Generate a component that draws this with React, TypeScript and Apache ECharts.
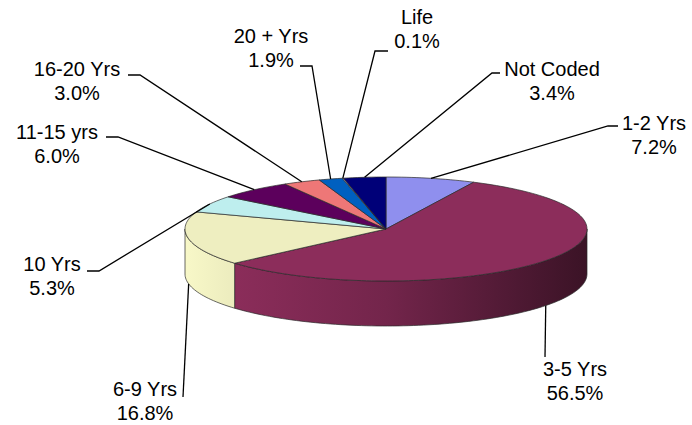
import React, { useEffect, useRef } from "react";
import * as echarts from "echarts";

// ---- data ----
const categories = [
  "1-2 Yrs",
  "3-5 Yrs",
  "6-9 Yrs",
  "10 Yrs",
  "11-15 yrs",
  "16-20 Yrs",
  "20 + Yrs",
  "Life",
  "Not Coded",
];
const shares = [7.2, 56.5, 16.8, 5.3, 6.0, 3.0, 1.9, 0.1, 3.4];
const percentLabels = shares.map((v) => v.toFixed(1) + "%");

// ---- style ----
const COLORS = [
  "#8F8FEE",
  "#8C2D5B",
  "#EEEEC0",
  "#BEEEEE",
  "#5C005C",
  "#EE7777",
  "#0060C0",
  "#C0C0EE",
  "#000078",
];

// ---- layout (3D ellipse + label placement) ----
const CX = 386;
const CY = 229;
const RX = 201;
const RY = 52;
const DEPTH = 45;

// text block centre, then leader points after the slice anchor
const LABEL_LAYOUT: { tx: number; ty: number; pts: number[][] }[] = [
  { tx: 654, ty: 135, pts: [[608, 126], [618, 126]] },
  { tx: 575, ty: 381, pts: [[545, 357]] },
  { tx: 145, ty: 401, pts: [[183, 397]] },
  { tx: 52, ty: 276, pts: [[99, 271], [87, 271]] },
  { tx: 57, ty: 144, pts: [[118, 137], [106, 137]] },
  { tx: 77, ty: 81, pts: [[140, 75], [128, 75]] },
  { tx: 271, ty: 48, pts: [[312, 66], [300, 66]] },
  { tx: 417, ty: 29, pts: [[375, 51], [388, 51]] },
  { tx: 552, ty: 81, pts: [[492, 73], [500, 73]] },
];

function shade(hex: string, f: number): string {
  const n = parseInt(hex.slice(1), 16);
  const ch = [(n >> 16) & 255, (n >> 8) & 255, n & 255].map((c) =>
    Math.max(0, Math.min(255, Math.round(c * f)))
  );
  return "rgb(" + ch.join(",") + ")";
}

export default function App() {
  const ref = useRef<HTMLDivElement>(null);

  useEffect(() => {
    document.body.style.margin = "0";
    if (!ref.current) return;
    const chart = echarts.init(ref.current, undefined, { renderer: "svg" });

    const total = shares.reduce((a, b) => a + b, 0);
    const starts: number[] = [];
    let acc = 0;
    shares.forEach((v) => {
      starts.push((acc / total) * 360);
      acc += v;
    });

    const pt = (deg: number, dy = 0) => {
      const r = (deg * Math.PI) / 180;
      return [CX + RX * Math.sin(r), CY - RY * Math.cos(r) + dy];
    };

    const renderItem = (params: any, api: any) => {
      const i = params.dataIndex;
      const v = api.value(0) as number;
      const a0 = starts[i];
      const a1 = a0 + (v / total) * 360;
      const color = COLORS[i];
      const children: any[] = [];

      // outer wall (front half only)
      const w0 = Math.max(a0, 90);
      const w1 = Math.min(a1, 270);
      if (w1 > w0) {
        const top: number[][] = [];
        const bot: number[][] = [];
        const n = Math.max(2, Math.ceil((w1 - w0) / 1.5));
        for (let k = 0; k <= n; k++) {
          const t = w0 + ((w1 - w0) * k) / n;
          top.push(pt(t));
          bot.push(pt(t, DEPTH));
        }
        const grad = new echarts.graphic.LinearGradient(
          CX - RX,
          0,
          CX + RX,
          0,
          [
            { offset: 0, color: shade(color, 1.04) },
            { offset: 0.12, color: shade(color, 0.99) },
            { offset: 0.5, color: shade(color, 0.82) },
            { offset: 0.8, color: shade(color, 0.58) },
            { offset: 1, color: shade(color, 0.42) },
          ],
          true
        );
        children.push({
          type: "polygon",
          z2: 1,
          shape: { points: top.concat(bot.reverse()) },
          style: { fill: grad, stroke: "#2a2a2a", lineWidth: 0.7 },
        });
      }

      // top face
      const facePts: number[][] = [[CX, CY]];
      const m = Math.max(1, Math.ceil((a1 - a0) / 1.5));
      for (let k = 0; k <= m; k++) facePts.push(pt(a0 + ((a1 - a0) * k) / m));
      children.push({
        type: "polygon",
        z2: 2,
        shape: { points: facePts },
        style: { fill: color, stroke: "#2a2a2a", lineWidth: 0.7 },
      });

      // leader line
      const mid = (a0 + a1) / 2;
      const front = Math.cos((mid * Math.PI) / 180) < 0;
      const anchor = pt(mid, front ? DEPTH : 0);
      const lay = LABEL_LAYOUT[i];
      children.push({
        type: "polyline",
        z2: 3,
        shape: { points: [anchor].concat(lay.pts) },
        style: { stroke: "#000", lineWidth: 1.3, fill: "none" },
      });

      // label text
      children.push({
        type: "text",
        z2: 4,
        style: {
          text: categories[i] + "\n" + percentLabels[i],
          x: lay.tx,
          y: lay.ty,
          align: "center",
          verticalAlign: "middle",
          fontSize: 20,
          fontFamily: "Liberation Sans, Arial, sans-serif",
          lineHeight: 24,
          fill: "#000",
        },
      });

      return { type: "group", children };
    };

    chart.setOption({
      animation: false,
      backgroundColor: "#fff",
      series: [
        {
          type: "custom",
          coordinateSystem: "none",
          silent: true,
          data: shares.map((v, i) => ({ name: categories[i], value: [v] })),
          renderItem,
        },
      ],
    });

    return () => chart.dispose();
  }, []);

  return <div ref={ref} style={{ width: 692, height: 425 }} />;
}
